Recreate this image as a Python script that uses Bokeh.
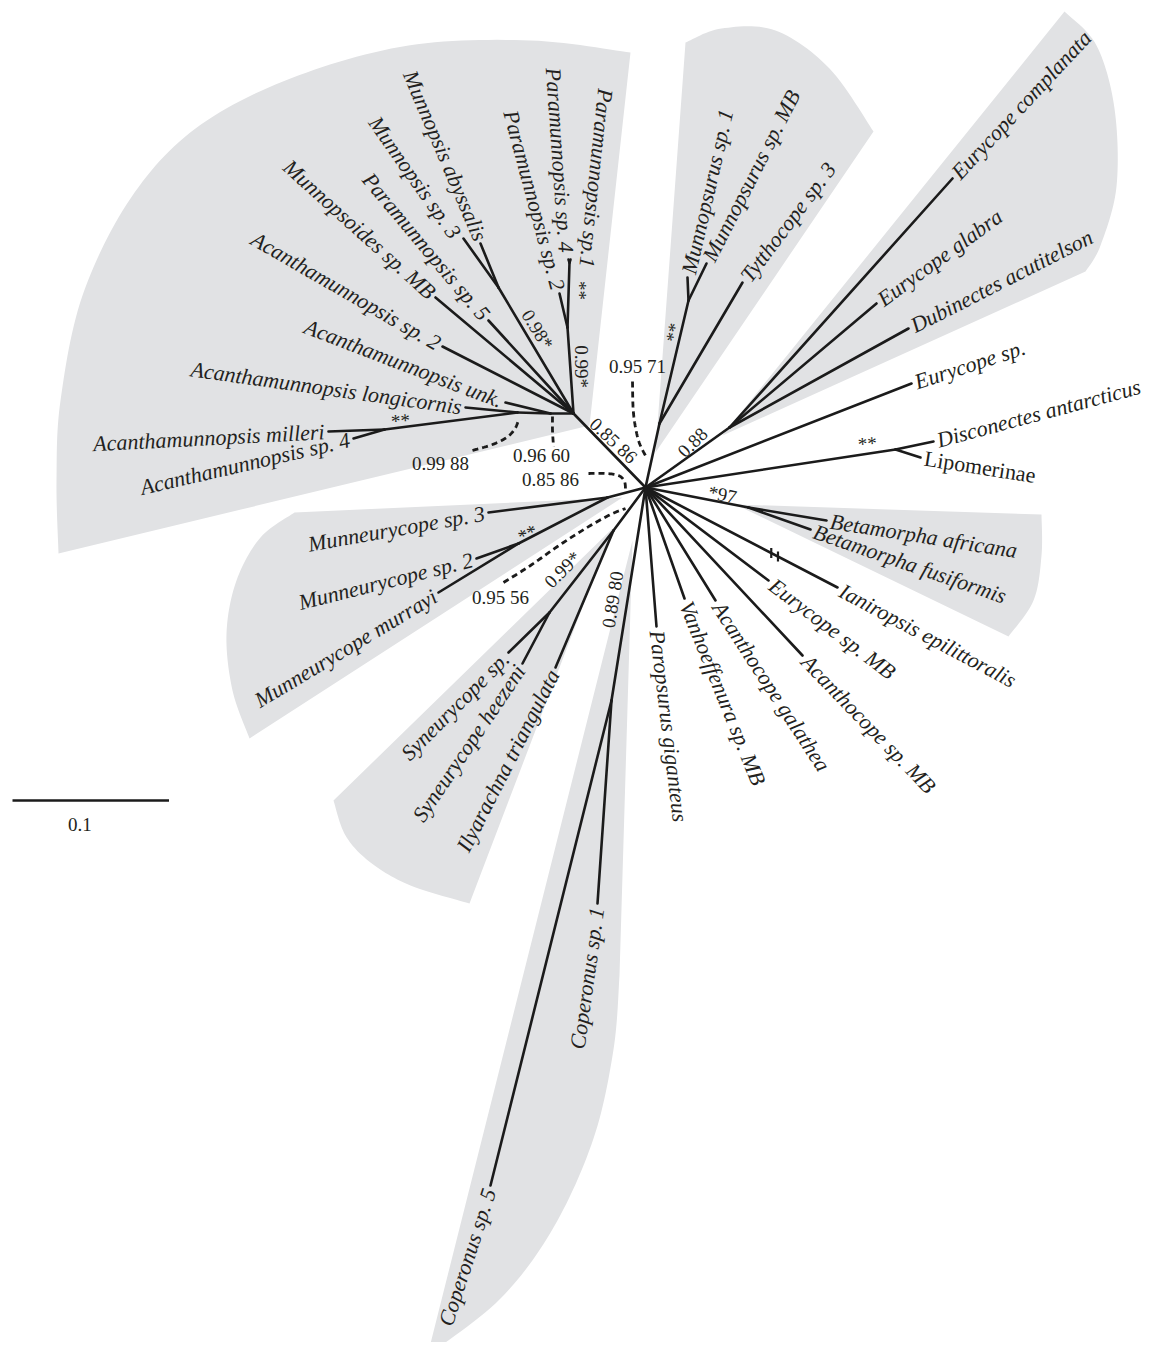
import numpy as np
from bokeh.plotting import figure
from bokeh.models import Range1d, ColumnDataSource
from bokeh.embed import file_html
from bokeh.resources import INLINE
from bokeh.core.properties import value

# ---------------- tree data (layout) ----------------
node_names = ["C", "A", "N1", "N2", "M", "MN", "P2", "P14", "T", "MS", "E", "DL",
              "B", "MU", "MM", "S", "S3", "CO"]
node_x = [645, 573, 550, 517, 384, 498, 567, 569, 659, 688, 729, 895, 748, 607, 518, 613, 549, 611]
node_y = [487, 413, 413, 412, 429, 287, 327, 262, 423, 300, 427, 449, 507, 497, 543, 530, 612, 700]
node_parent = [None, "C", "A", "N1", "N2", "A", "A", "P2", "C", "T", "C", "C",
               "C", "C", "MU", "C", "S", "C"]

tip_names = ["Acanthamunnopsis milleri", "Acanthamunnopsis sp. 4", "Acanthamunnopsis longicornis",
             "Acanthamunnopsis unk.", "Acanthamunnopsis sp. 2", "Munnopsoides sp. MB",
             "Paramunnopsis sp. 5", "Munnopsis sp. 3", "Munnopsis abyssalis", "Paramunnopsis sp. 2",
             "Paramunnopsis sp. 4", "Paramunnopsis sp.1", "Munnopsurus sp. 1", "Munnopsurus sp. MB",
             "Tytthocope sp. 3", "Eurycope complanata", "Eurycope glabra", "Dubinectes acutitelson",
             "Eurycope sp.", "Disconectes antarcticus", "Lipomerinae", "Betamorpha africana",
             "Betamorpha fusiformis", "Ianiropsis epilittoralis", "Eurycope sp. MB", "Acanthocope sp. MB",
             "Acanthocope galathea", "Vanhoeffenura sp. MB", "Paropsurus giganteus", "Coperonus sp. 1",
             "Coperonus sp. 5", "Ilyarachna triangulata", "Syneurycope heezeni", "Syneurycope sp.",
             "Munneurycope murrayi", "Munneurycope sp. 2", "Munneurycope sp. 3"]
tip_x = [328, 353, 465, 505, 442, 435, 488, 463, 480, 559, 568, 570, 687, 706, 742, 952, 876, 908,
         911, 933, 920, 826, 810, 837, 768, 802, 715, 684, 656, 597, 490, 555, 522, 508, 438, 476, 488]
tip_y = [431, 438, 407, 402, 346, 297, 320, 238, 243, 293, 259, 259, 277, 263, 282, 178, 303, 328,
         383, 441, 457, 520, 529, 587, 580, 655, 600, 598, 626, 903, 1185, 667, 663, 652, 592, 558, 512]
tip_parent = ["M", "M", "N2", "N1", "A", "A", "A", "MN", "MN", "P2", "P14", "P14", "MS", "MS", "T",
              "E", "E", "E", "C", "DL", "DL", "B", "B", "C", "C", "C", "C", "C", "C", "CO", "CO",
              "S", "S3", "S3", "MM", "MM", "MU"]

# label orientation (degrees, counter-clockwise) and side
tip_label_angle = [3, 13, -8, -21, -30, -42, -50, -55, -67, -75, -86, -96, 77, 63, 53, 47, 36, 27,
                   18, 15, -9, -9, -19, -28, -37, -46, -57, -68, -83, 82, 72, 63, 56, 45, 31, 14, 10]
tip_label_end = [1] * 12 + [0] * 17 + [1] * 8     # 1: label ends at tip, 0: starts at tip
tip_label_dx = [0] * 7 + [-5, 2, 0, -2, 16] + [0] * 25
tip_label_dy = [0] * 7 + [1, 0, 0, -3, 12] + [0] * 25

support_labels = ["0.85 86", "0.98*", "0.99*", "**", "0.99 88", "0.96 60", "0.85 86", "0.95 71",
                  "0.95 56", "**", "**", "0.88", "**", "*97", "**", "0.99*", "0.89 80"]
support_x = [613, 537, 581, 579, 440, 541, 550, 637, 500, 400, 673, 692, 867, 722, 527, 562, 612]
support_y = [440, 329, 366, 290, 463, 455, 479, 366, 597, 420, 332, 442, 443, 494, 533, 569, 599]
support_angle = [-43, -58, -90, -90, 0, 0, 0, 0, 0, 4, 80, 45, 5, -12, 25, 45, 81]

dashed_paths = [
    [(472, 450), (492, 444), (506, 437), (514, 429), (518, 420)],
    [(552, 416), (552, 430), (553, 446)],
    [(588, 473), (605, 473), (618, 475), (624, 481), (625, 490)],
    [(632, 381), (633, 413), (638, 440), (646, 457)],
    [(503, 582), (530, 565), (557, 546), (585, 528), (610, 514), (625, 508)],
]

scale_value = 0.1
scale_px_per_unit = 1565
scale_origin = (12, 800)

GRAY = "#e1e2e4"
INK = "#1b1b1b"
TXT = "#231f20"


def smooth(pts, n=14):
    pts = np.asarray(pts, float)
    P = np.vstack([pts[0], pts, pts[-1]])
    out = []
    for i in range(1, len(P) - 2):
        p0, p1, p2, p3 = P[i - 1], P[i], P[i + 1], P[i + 2]
        for t in np.linspace(0, 1, n, endpoint=False):
            t2, t3 = t * t, t * t * t
            out.append(0.5 * ((2 * p1) + (-p0 + p2) * t + (2 * p0 - 5 * p1 + 4 * p2 - p3) * t2
                              + (-p0 + 3 * p1 - 3 * p2 + p3) * t3))
    out.append(pts[-1])
    return np.array(out)


def wedge(head, arc, tail=()):
    pts = list(head) + [tuple(q) for q in smooth(arc)] + list(tail)
    return [q[0] for q in pts], [q[1] for q in pts]


clade_shapes = [
    wedge([(589, 425)], [(630, 52), (530, 40), (408, 45), (290, 78), (195, 128), (130, 198),
                         (82, 295), (60, 400), (56, 480), (58, 553)]),
    wedge([(655, 452)], [(685, 42), (721, 28), (775, 30), (829, 68), (873, 131)]),
    wedge([(722, 435)], [(1064, 11), (1096, 45), (1114, 108), (1116, 186), (1100, 245), (1085, 271)]),
    wedge([(735, 504)], [(1041, 514), (1041, 555), (1033, 600), (1008, 636)]),
    wedge([(622, 497)], [(294, 512), (260, 537), (236, 580), (226, 633), (232, 690), (249, 738)]),
    wedge([(612, 528)], [(333, 800), (345, 835), (370, 862), (410, 885), (469, 903)]),
    wedge([(632, 540)], [(619, 975), (613, 1049), (593, 1138), (553, 1227), (500, 1298), (427, 1355)]),
]

# ---------------- figure ----------------
p = figure(width=1145, height=1342, x_range=Range1d(0, 1145), y_range=Range1d(1342, 0),
           output_backend="svg", toolbar_location=None, min_border=0,
           x_axis_type=None, y_axis_type=None, outline_line_color=None)
p.background_fill_color = "white"
p.border_fill_color = "white"
p.grid.visible = False

p.patches(xs=[s[0] for s in clade_shapes], ys=[s[1] for s in clade_shapes],
          fill_color=GRAY, line_color=None)

pos = {n: (x, y) for n, x, y in zip(node_names, node_x, node_y)}
x0, y0, x1, y1 = [], [], [], []
for n, par in zip(node_names, node_parent):
    if par is not None:
        x0.append(pos[par][0]); y0.append(pos[par][1]); x1.append(pos[n][0]); y1.append(pos[n][1])
for tx, ty, par in zip(tip_x, tip_y, tip_parent):
    x0.append(pos[par][0]); y0.append(pos[par][1]); x1.append(tx); y1.append(ty)
p.segment(x0=x0, y0=y0, x1=x1, y1=y1, line_width=2.6, line_color=INK, line_cap="round")

# break mark on the Ianiropsis branch
k = tip_names.index("Ianiropsis epilittoralis")
cx, cy = pos["C"]
bx0, by0, bx1, by1 = [], [], [], []
for t in (0.655, 0.69):
    mx = cx + (tip_x[k] - cx) * t
    my = cy + (tip_y[k] - cy) * t
    bx0.append(mx); by0.append(my - 5); bx1.append(mx); by1.append(my + 5)
p.segment(x0=bx0, y0=by0, x1=bx1, y1=by1, line_width=2.2, line_color=INK)

# dashed support connectors
dxs, dys = [], []
for path in dashed_paths:
    sm = smooth(path, 10)
    dxs.append(list(sm[:, 0])); dys.append(list(sm[:, 1]))
p.multi_line(xs=dxs, ys=dys, line_width=2.8, line_color=INK, line_dash="6 4")

# tip labels
groups = {}
for i, name in enumerate(tip_names):
    a = np.deg2rad(tip_label_angle[i])
    ux, uy = np.cos(a), -np.sin(a)
    gap = 4.0
    sgn = -1 if tip_label_end[i] else 1
    lx = tip_x[i] + sgn * gap * ux + tip_label_dx[i]
    ly = tip_y[i] + sgn * gap * uy + tip_label_dy[i]
    italic = name != "Lipomerinae"
    key = ("right" if tip_label_end[i] else "left", italic)
    g = groups.setdefault(key, dict(x=[], y=[], text=[], angle=[]))
    g["x"].append(lx); g["y"].append(ly); g["text"].append(name); g["angle"].append(a)

for (align, italic), g in groups.items():
    p.text(x="x", y="y", text="text", angle="angle", source=ColumnDataSource(g),
           text_align=align, text_baseline="middle", text_font=value("Liberation Serif"),
           text_font_style="italic" if italic else "normal", text_font_size="22px",
           text_color=TXT)

# support values
p.text(x=support_x, y=support_y, text=support_labels, angle=list(np.deg2rad(support_angle)),
       text_align="center", text_baseline="middle", text_font=value("Liberation Serif"),
       text_font_size="19px", text_color=TXT)

# scale bar
sx, sy = scale_origin
p.segment(x0=[sx], y0=[sy], x1=[sx + scale_value * scale_px_per_unit], y1=[sy],
          line_width=2.6, line_color=INK)
p.text(x=[sx + scale_value * scale_px_per_unit * 0.43], y=[sy + 24], text=[f"{scale_value:g}"],
       text_align="center", text_baseline="middle", text_font=value("Liberation Serif"),
       text_font_size="19px", text_color=TXT)

open("out.html", "w").write(file_html(p, INLINE))
